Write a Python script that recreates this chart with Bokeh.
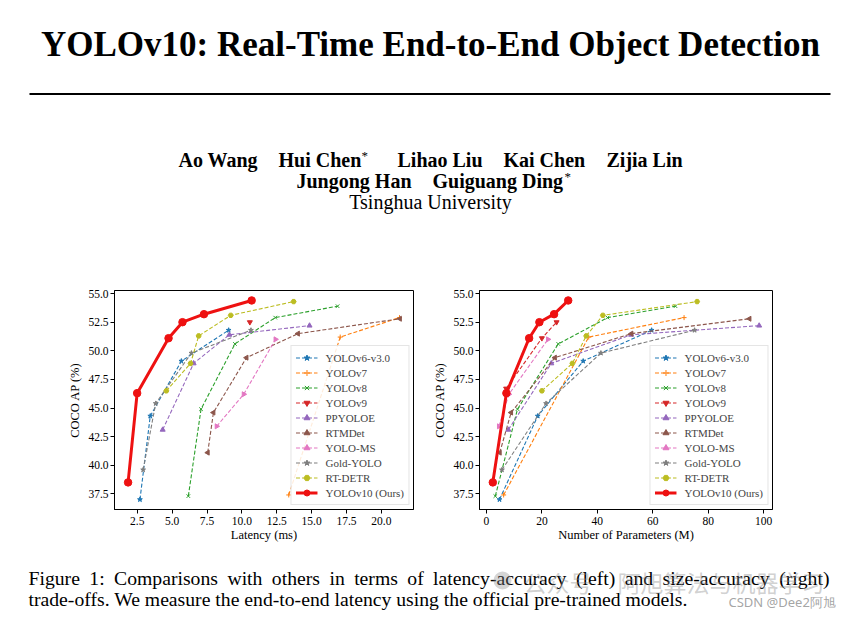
import math
from bokeh.plotting import figure
from bokeh.models import Range1d, FixedTicker, PrintfTickFormatter, Legend
from bokeh.layouts import column, row
from bokeh.embed import file_html
from bokeh.resources import INLINE
from bokeh.core.properties import value

# ---------------- data ----------------
names = ["YOLOv6-v3.0", "YOLOv7", "YOLOv8", "YOLOv9", "PPYOLOE", "RTMDet",
         "YOLO-MS", "Gold-YOLO", "RT-DETR", "YOLOv10 (Ours)"]

ap_v6 = [37.0, 44.3, 49.1, 51.8]
lat_v6 = [2.69, 3.43, 5.66, 9.05]
par_v6 = [4.7, 18.5, 34.9, 59.6]

ap_v7 = [37.4, 51.2, 52.9]
lat_v7 = [13.36, 17.05, 21.3]
par_v7 = [6.2, 36.9, 71.3]

ap_v8 = [37.3, 44.9, 50.6, 52.9, 53.9]
lat_v8 = [6.16, 7.07, 9.50, 12.39, 16.86]
par_v8 = [3.2, 11.2, 25.9, 43.7, 68.2]

ap_v9_lat = [52.5]
lat_v9 = [10.57]
ap_v9_par = [46.7, 51.1, 52.5]
par_v9 = [7.1, 20.0, 25.3]

ap_pp = [43.1, 48.9, 51.4, 52.2]
lat_pp = [4.32, 6.54, 9.10, 14.85]
par_pp = [7.9, 23.4, 52.2, 98.4]

ap_rtm = [41.1, 44.6, 49.4, 51.5, 52.8]
lat_rtm = [7.55, 7.96, 10.33, 14.02, 21.33]
par_rtm = [4.8, 8.9, 24.7, 52.3, 94.9]

ap_ms = [43.4, 46.2, 51.0]
lat_ms = [8.19, 10.13, 12.41]
par_ms = [4.5, 8.1, 22.2]

ap_gold = [39.6, 45.4, 49.8, 51.8]
lat_gold = [2.92, 3.82, 6.38, 10.65]
par_gold = [5.6, 21.5, 41.3, 75.1]

ap_detr = [46.5, 48.9, 51.3, 53.1, 54.3]
lat_detr = [4.58, 6.32, 6.90, 9.20, 13.71]
par_detr = [20.0, 31.0, 36.0, 42.0, 76.0]

ap_v10 = [38.5, 46.3, 51.1, 52.5, 53.2, 54.4]
lat_v10 = [1.84, 2.49, 4.74, 5.74, 7.28, 10.70]
par_v10 = [2.3, 7.2, 15.4, 19.1, 24.4, 29.5]

lat_ticks = [2.5, 5.0, 7.5, 10.0, 12.5, 15.0, 17.5, 20.0]
par_ticks = [0, 20, 40, 60, 80, 100]
ap_ticks = [37.5, 40.0, 42.5, 45.0, 47.5, 50.0, 52.5, 55.0]

colors = ["#1f77b4", "#ff7f0e", "#2ca02c", "#d62728", "#9467bd", "#8c564b",
          "#e377c2", "#7f7f7f", "#bcbd22", "#ee1111"]
markers = [("star", 0), ("cross", 0), ("x", 0), ("inverted_triangle", 0),
           ("triangle", 0), ("triangle", math.pi / 2), ("triangle", -math.pi / 2),
           ("star", 0), ("hex", 0), ("circle", 0)]

lat_series = [(lat_v6, ap_v6), (lat_v7, ap_v7), (lat_v8, ap_v8), (lat_v9, ap_v9_lat),
              (lat_pp, ap_pp), (lat_rtm, ap_rtm), (lat_ms, ap_ms), (lat_gold, ap_gold),
              (lat_detr, ap_detr), (lat_v10, ap_v10)]
par_series = [(par_v6, ap_v6), (par_v7, ap_v7), (par_v8, ap_v8), (par_v9, ap_v9_par),
              (par_pp, ap_pp), (par_rtm, ap_rtm), (par_ms, ap_ms), (par_gold, ap_gold),
              (par_detr, ap_detr), (par_v10, ap_v10)]

title_text = "YOLOv10: Real-Time End-to-End Object Detection"
caption_words = ["Figure", "1:", "Comparisons", "with", "others", "in", "terms", "of",
                 "latency-accuracy", "(left)", "and", "size-accuracy", "(right)"]
caption_line2 = "trade-offs. We measure the end-to-end latency using the official pre-trained models."

SERIF = "Liberation Serif"

# Times-compatible advance widths (1/1000 em) used to justify the first caption line
TW = {' ': 250, '(': 333, ')': 333, '-': 333, '.': 250, ':': 278, '1': 500,
      'F': 556, 'C': 667, 'W': 944, 'a': 444, 'b': 500, 'c': 444, 'd': 500, 'e': 444,
      'f': 333, 'g': 500, 'h': 500, 'i': 278, 'j': 278, 'k': 500, 'l': 278, 'm': 778,
      'n': 500, 'o': 500, 'p': 500, 'r': 333, 's': 389, 't': 278, 'u': 500, 'v': 500,
      'w': 722, 'x': 500, 'y': 500, 'z': 444}


def tw(s, px):
    return sum(TW.get(ch, 500) for ch in s) * px / 1000.0


def padded(vals):
    lo, hi = min(vals), max(vals)
    d = (hi - lo) * 0.05
    return lo - d, hi + d


def make_chart(series, xticks, xfmt, xlabel, width, bl, br):
    xs = [v for s in series for v in s[0]]
    ys = [v for s in series for v in s[1]]
    x0, x1 = padded(xs)
    y0, y1 = padded(ys)
    p = figure(width=width, height=278, output_backend="svg", toolbar_location=None,
               x_range=Range1d(x0, x1), y_range=Range1d(y0, y1),
               min_border_left=bl, min_border_right=br, min_border_top=20, min_border_bottom=39)
    p.grid.visible = False
    p.outline_line_color = "black"
    p.outline_line_width = 1
    p.outline_line_alpha = 1
    p.background_fill_color = "white"
    p.border_fill_color = "white"
    for ax in (p.xaxis[0], p.yaxis[0]):
        ax.major_tick_out = 4
        ax.major_tick_in = 0
        ax.minor_tick_out = 0
        ax.minor_tick_in = 0
        ax.minor_tick_line_color = None
        ax.axis_line_color = "black"
        ax.major_label_text_font = SERIF
        ax.major_label_text_font_size = "11.5px"
        ax.major_label_text_color = "black"
        ax.axis_label_text_font = SERIF
        ax.axis_label_text_font_size = "12.5px"
        ax.axis_label_text_font_style = "normal"
        ax.axis_label_text_color = "black"
        ax.major_label_standoff = 3
        ax.axis_label_standoff = 0
    p.yaxis[0].major_label_standoff = 2
    p.yaxis[0].axis_label_standoff = 3
    p.xaxis[0].ticker = FixedTicker(ticks=xticks)
    p.xaxis[0].formatter = PrintfTickFormatter(format=xfmt)
    p.yaxis[0].ticker = FixedTicker(ticks=ap_ticks)
    p.yaxis[0].formatter = PrintfTickFormatter(format="%.1f")
    p.xaxis[0].axis_label = xlabel
    p.yaxis[0].axis_label = "COCO AP (%)"

    items = []
    for i, (xv, yv) in enumerate(series):
        ours = i == len(series) - 1
        lw = 3 if ours else 1.1
        dash = "solid" if ours else "4 2"
        r1 = p.line(xv, yv, line_color=colors[i], line_width=lw, line_dash=dash)
        mk, ang = markers[i]
        size = 7.5 if ours else 5
        r2 = p.scatter(xv, yv, marker=mk, angle=ang, size=size, fill_color=colors[i],
                       line_color=colors[i], line_width=1)
        items.append((names[i], [r1, r2]))
    leg = Legend(items=items, location="bottom_right")
    leg.label_text_font = SERIF
    leg.label_text_font_size = "11px"
    leg.label_height = 15
    leg.glyph_height = 15
    leg.glyph_width = 22
    leg.spacing = 0
    leg.padding = 4
    leg.margin = 4
    leg.label_standoff = 8
    leg.border_line_color = "#cccccc"
    leg.border_line_width = 1
    leg.background_fill_alpha = 0.85
    p.add_layout(leg)
    return p


left = make_chart(lat_series, lat_ticks, "%.1f", "Latency (ms)", 430, 114, 17)
right = make_chart(par_series, par_ticks, "%d", "Number of Parameters (M)", 429, 46, 87)


def text_fig(w, h):
    f = figure(width=w, height=h, output_backend="svg", toolbar_location=None,
               x_range=Range1d(0, w), y_range=Range1d(h, 0),
               min_border=0, min_border_left=0, min_border_right=0,
               min_border_top=0, min_border_bottom=0)
    f.axis.visible = False
    f.grid.visible = False
    f.outline_line_color = None
    f.background_fill_color = "white"
    f.border_fill_color = "white"
    return f


def put(f, x, y, s, size, bold=False, align="left", font=SERIF, color="black", alpha=1.0):
    f.text(x=[x], y=[y], text=[s], text_font=value(font), text_font_size=size,
           text_font_style="bold" if bold else "normal", text_align=align,
           text_baseline="alphabetic", text_color=color, text_alpha=alpha)


head = text_fig(859, 270)
put(head, 430, 44, title_text, "35px", True, "center")
head.line(x=[29, 830], y=[93.5, 93.5], line_color="black", line_width=2)
NAME = "20px"
put(head, 178, 159, "Ao Wang", NAME, True)
put(head, 278, 159, "Hui Chen", NAME, True)
put(head, 361, 155, "*", "13px", False)
put(head, 397, 159, "Lihao Liu", NAME, True)
put(head, 503, 159, "Kai Chen", NAME, True)
put(head, 606, 159, "Zijia Lin", NAME, True)
put(head, 296, 180, "Jungong Han", NAME, True)
put(head, 432, 180, "Guiguang Ding", NAME, True)
put(head, 564, 176, "*", "13px", False)
put(head, 430, 201, "Tsinghua University", NAME, False, "center")

cap = text_fig(859, 68)
CAP = 19.7
x_left, x_right = 28, 829
total = sum(tw(wd, CAP) for wd in caption_words)
gap = (x_right - x_left - total) / (len(caption_words) - 1)
cx = x_left
for wd in caption_words:
    put(cap, cx, 29, wd, "%gpx" % CAP)
    cx += tw(wd, CAP) + gap
put(cap, x_left, 50, caption_line2, "%gpx" % CAP)
# faint watermark
cap.scatter(x=[502], y=[32], size=18, marker="circle", fill_color="#888888",
            line_color=None, fill_alpha=0.35)
put(cap, 523, 33, "公众号", "23px", False, "left", "Noto Sans CJK SC", "#888888", 0.4)
put(cap, 617, 33, "阿旭算法与机器学习", "23px", False, "left", "Noto Sans CJK SC", "#888888", 0.4)
put(cap, 728, 53, "CSDN @Dee2阿旭", "13px", False, "left", "Noto Sans", "#9a9a9a", 0.9)

layout = column(head, row(left, right, spacing=0), cap, spacing=0)
open("out.html", "w").write(file_html(layout, INLINE))
